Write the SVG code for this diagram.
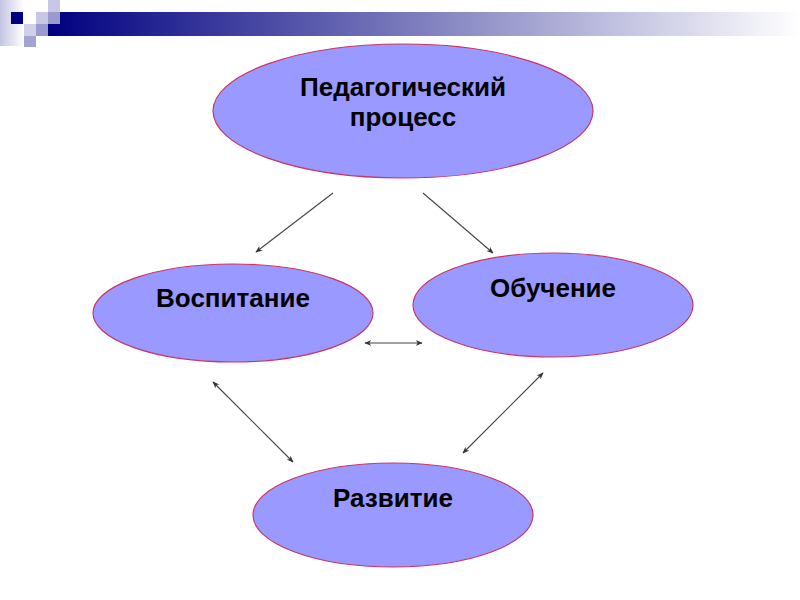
<svg xmlns="http://www.w3.org/2000/svg" width="800" height="600" viewBox="0 0 800 600">
<defs>
  <linearGradient id="bar" x1="48" y1="0" x2="800" y2="0" gradientUnits="userSpaceOnUse">
    <stop offset="0" stop-color="#000080"/>
    <stop offset="1" stop-color="#ffffff"/>
  </linearGradient>
  <linearGradient id="side" x1="0" y1="0" x2="1" y2="0">
    <stop offset="0" stop-color="#c4c4e4"/>
    <stop offset="1" stop-color="#ffffff"/>
  </linearGradient>
  <marker id="ah" viewBox="0 0 10 10" refX="9" refY="5" markerWidth="7" markerHeight="7" orient="auto-start-reverse" markerUnits="userSpaceOnUse">
    <path d="M0,1 L10,5 L0,9 L3,5 Z" fill="#333333"/>
  </marker>
</defs>
<style>
  .node ellipse { fill: #9999ff; stroke: #cc3366; stroke-width: 1.2; }
  .node text { font-family: "Liberation Sans", Arial, sans-serif; font-weight: bold; font-size: 26px; fill: #000000; text-anchor: middle; }
  .conn line { stroke: #444444; stroke-width: 1.1; }
</style>
<rect width="800" height="600" fill="#ffffff"/>
<g id="decoration">
  <rect x="0" y="0" width="24" height="46" fill="url(#side)"/>
  <rect x="48" y="12" width="752" height="24" fill="url(#bar)"/>
  <rect x="11" y="12" width="12" height="12" fill="#000080"/>
  <rect x="36" y="12" width="12" height="12" fill="#c8c8e6"/>
  <rect x="48" y="0" width="12" height="12" fill="#c8c8e6"/>
  <rect x="48" y="12" width="12" height="12" fill="#9a9acc"/>
  <rect x="24" y="24" width="12" height="12" fill="#d0d0ea"/>
  <rect x="36" y="24" width="12" height="12" fill="#9a9acc"/>
  <rect x="24" y="36" width="12" height="11" fill="#a4a4d4"/>
</g>
<g id="connectors" class="conn">
  <line x1="333" y1="193" x2="256" y2="252" marker-end="url(#ah)"/>
  <line x1="423" y1="193" x2="493" y2="253" marker-end="url(#ah)"/>
  <line x1="365" y1="343" x2="422" y2="343" marker-start="url(#ah)" marker-end="url(#ah)"/>
  <line x1="213" y1="382" x2="293" y2="462" marker-start="url(#ah)" marker-end="url(#ah)"/>
  <line x1="543" y1="373" x2="463" y2="453" marker-start="url(#ah)" marker-end="url(#ah)"/>
</g>
<g id="node-pedprocess" class="node">
  <ellipse cx="403" cy="111" rx="190" ry="67"/>
  <text x="403" y="96">Педагогический</text>
  <text x="403" y="126">процесс</text>
</g>
<g id="node-vospitanie" class="node">
  <ellipse cx="233" cy="313" rx="140" ry="49"/>
  <text x="233" y="307">Воспитание</text>
</g>
<g id="node-obuchenie" class="node">
  <ellipse cx="553" cy="305" rx="140" ry="52"/>
  <text x="553" y="297">Обучение</text>
</g>
<g id="node-razvitie" class="node">
  <ellipse cx="393" cy="515" rx="140" ry="52"/>
  <text x="393" y="507">Развитие</text>
</g>
</svg>
